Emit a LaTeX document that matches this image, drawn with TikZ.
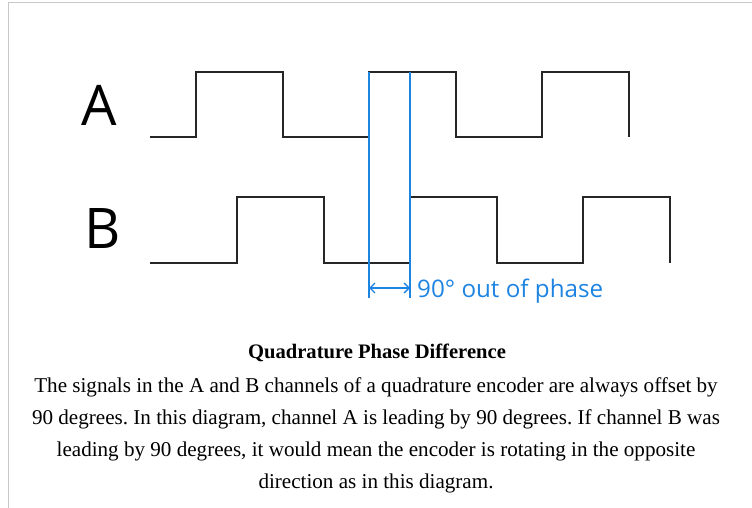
\documentclass[tikz,border=0pt]{standalone}
\usepackage{fontspec}
\setmainfont{Liberation Serif}
\newfontfamily\chanfont{Open Sans}
\usetikzlibrary{arrows.meta}
\definecolor{phaseblue}{RGB}{30,132,226}
\definecolor{framegray}{RGB}{200,200,200}
\frenchspacing
\tikzset{
  signal/.style={black!85, line width=2pt, line join=miter},
  marker/.style={phaseblue, line width=2pt},
  chanlabel/.style={font=\chanfont\fontsize{56}{56}\selectfont, anchor=base, inner sep=0pt},
  captext/.style={font=\fontsize{21.1}{24}\selectfont, anchor=base, inner sep=0pt},
}
\begin{document}
\begin{tikzpicture}[x=1pt, y=-1pt]
    \useasboundingbox (0,0) rectangle (752,508);
    % Rahmen
    \draw[framegray, line width=1pt] (8,508) -- (8,3) -- (752,3);

    % Kanalnamen
    \node[chanlabel] (chanA) at (99,125) {A};
    \node[chanlabel] (chanB) at (103,248) {B};

    % Kanal A
    \draw[signal] (150,137) -- (196,137) -- (196,72) -- (283,72) -- (283,137)
      -- (369,137) -- (369,72) -- (456,72) -- (456,137)
      -- (542,137) -- (542,72) -- (629,72) -- (629,137);

    % Kanal B (um 90 Grad verschoben)
    \draw[signal] (150,263) -- (237,263) -- (237,197) -- (324,197) -- (324,263)
      -- (410,263) -- (410,197) -- (497,197) -- (497,263)
      -- (583,263) -- (583,197) -- (670,197) -- (670,263);

    % Phasenmarken
    \coordinate (leadTop) at (369,72);
    \coordinate (leadEnd) at (369,298);
    \coordinate (lagTop) at (410,72);
    \coordinate (lagEnd) at (410,298);
    \draw[marker] (leadTop) -- (leadEnd);
    \draw[marker] (lagTop) -- (lagEnd);
    \coordinate (gapL) at (369,288);
    \coordinate (gapR) at (410,288);
    \draw[phaseblue, line width=1.3pt, {Straight Barb[length=5pt,width=10pt]}-{Straight Barb[length=5pt,width=10pt]}] (gapL) -- (gapR);
    \node[phaseblue, font=\chanfont\fontsize{24.2}{24}\selectfont, anchor=base west, inner sep=0pt] (phase) at (417,297) {90° out of phase};

    % Bildunterschrift
    \node[captext, font=\bfseries\fontsize{20.6}{24}\selectfont] (title) at (377,358) {Quadrature Phase Difference};
    \node[captext] (line1) at (376,392) {The signals in the A and B channels of a quadrature encoder are always offset by};
    \node[captext] (line2) at (376,424) {90 degrees. In this diagram, channel A is leading by 90 degrees. If channel B was};
    \node[captext] (line3) at (376,456) {leading by 90 degrees, it would mean the encoder is rotating in the opposite};
    \node[captext] (line4) at (376,488) {direction as in this diagram.};
\end{tikzpicture}
\end{document}
